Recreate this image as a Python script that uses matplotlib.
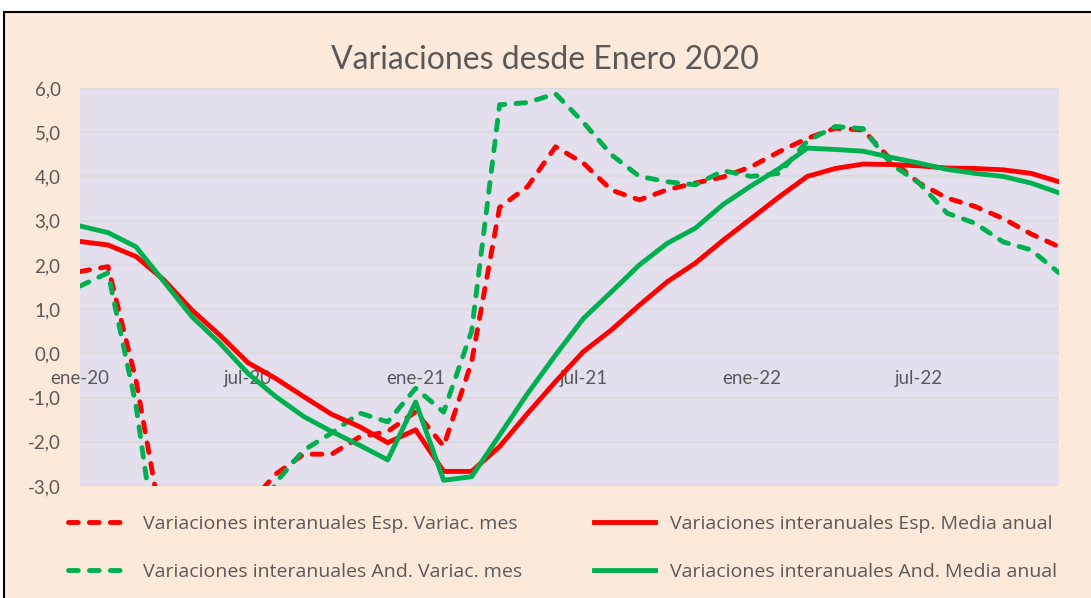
import matplotlib
matplotlib.use("Agg")
import matplotlib.pyplot as plt
from matplotlib.patches import Rectangle

plt.rcParams['font.family'] = ['Lato', 'DejaVu Sans']

# Meses de ene-20 a dic-22
meses = ["ene-20", "feb-20", "mar-20", "abr-20", "may-20", "jun-20",
         "jul-20", "ago-20", "sep-20", "oct-20", "nov-20", "dic-20",
         "ene-21", "feb-21", "mar-21", "abr-21", "may-21", "jun-21",
         "jul-21", "ago-21", "sep-21", "oct-21", "nov-21", "dic-21",
         "ene-22", "feb-22", "mar-22", "abr-22", "may-22", "jun-22",
         "jul-22", "ago-22", "sep-22", "oct-22", "nov-22", "dic-22"]
etiquetas_x = ["ene-20", "jul-20", "ene-21", "jul-21", "ene-22", "jul-22"]

esp_mes = [1.85, 1.96, -0.6, -4.15, -4.6, -4.3, -3.45, -2.73, -2.28, -2.28,
           -1.89, -1.77, -1.32, -2.10, -0.2, 3.3, 3.77, 4.67, 4.30, 3.69,
           3.47, 3.70, 3.85, 3.99, 4.22, 4.56, 4.86, 5.09, 5.05, 4.37,
           3.85, 3.51, 3.32, 3.05, 2.70, 2.41]
esp_media = [2.53, 2.45, 2.19, 1.66, 0.98, 0.41, -0.21, -0.57, -0.98, -1.38,
             -1.66, -2.02, -1.73, -2.67, -2.67, -2.11, -1.36, -0.64, 0.04, 0.53,
             1.09, 1.62, 2.04, 2.56, 3.05, 3.54, 4.0, 4.18, 4.28, 4.27,
             4.24, 4.19, 4.18, 4.15, 4.07, 3.88]
and_mes = [1.52, 1.82, -1.17, -5.6, -5.8, -5.2, -4.5, -2.92, -2.19, -1.80,
           -1.35, -1.55, -0.79, -1.33, 0.5, 5.62, 5.67, 5.87, 5.22, 4.49,
           4.0, 3.88, 3.81, 4.13, 4.0, 4.07, 4.8, 5.13, 5.08, 4.28,
           3.85, 3.17, 2.94, 2.52, 2.34, 1.82]
and_media = [2.88, 2.73, 2.41, 1.62, 0.83, 0.23, -0.45, -0.98, -1.43, -1.77,
             -2.08, -2.41, -1.10, -2.87, -2.79, -1.85, -0.91, -0.04, 0.79, 1.39,
             2.0, 2.49, 2.83, 3.37, 3.79, 4.18, 4.64, 4.61, 4.57, 4.43,
             4.30, 4.16, 4.07, 4.0, 3.85, 3.63]

rojo = "#FF0000"
verde = "#00B050"
gris = "#595959"

fig = plt.figure(figsize=(10.91, 5.98), dpi=100, facecolor="white")
fig.patches.append(Rectangle((4 / 1091, -0.2), 1.2, 1.2 - 12 / 598,
                             transform=fig.transFigure, facecolor="#FDE9D9",
                             edgecolor="black", linewidth=1.5, zorder=-10))

ax = fig.add_axes([80 / 1091, 1 - 486 / 598, (1059 - 80) / 1091, (486 - 88) / 598])
ax.set_facecolor("#E4DFEC")

x = list(range(len(meses)))
estilo_mes = dict(lw=3.5, dashes=(2.0, 2.3), dash_capstyle="round")
l1, = ax.plot(x, esp_mes, color=rojo, label="Variaciones interanuales Esp. Variac. mes", **estilo_mes)
l3, = ax.plot(x, and_mes, color=verde, label="Variaciones interanuales And. Variac. mes", **estilo_mes)
l2, = ax.plot(x, esp_media, color=rojo, lw=3.5, label="Variaciones interanuales Esp. Media anual")
l4, = ax.plot(x, and_media, color=verde, lw=3.5, label="Variaciones interanuales And. Media anual")

ax.set_xlim(0, len(meses) - 1)
ax.set_ylim(-3, 6)
ax.set_yticks(range(-3, 7))
ax.set_yticklabels([f"{v:.1f}".replace(".", ",") for v in range(-3, 7)])
ax.set_xticks([meses.index(m) for m in etiquetas_x])
ax.set_xticklabels(etiquetas_x)
ax.grid(axis="y", color="#D9D9D9", lw=1.2)
ax.set_axisbelow(True)
for s in ["top", "right", "left"]:
    ax.spines[s].set_visible(False)
ax.spines["bottom"].set_position(("data", 0))
ax.spines["bottom"].set_color("none")
ax.tick_params(axis="y", length=0, pad=14, labelsize=13.5, labelcolor=gris)
ax.tick_params(axis="x", length=0, pad=12, labelsize=13.5, labelcolor=gris)

fig.text(545 / 1091, 1 - 60 / 598, "Variaciones desde Enero 2020", ha="center",
         va="center", fontsize=23, color=gris)

fig.legend(handles=[l1, l3, l2, l4], ncol=2, frameon=False,
           prop={"family": "Open Sans", "size": 14},
           labelcolor=gris, loc="upper left", bbox_to_anchor=(68 / 1091, 1 - 515 / 598),
           borderaxespad=0, borderpad=0, handlelength=3.1, handletextpad=0.77,
           labelspacing=1.55, columnspacing=3.7)

fig.savefig("out.png", dpi=100, facecolor="white")
